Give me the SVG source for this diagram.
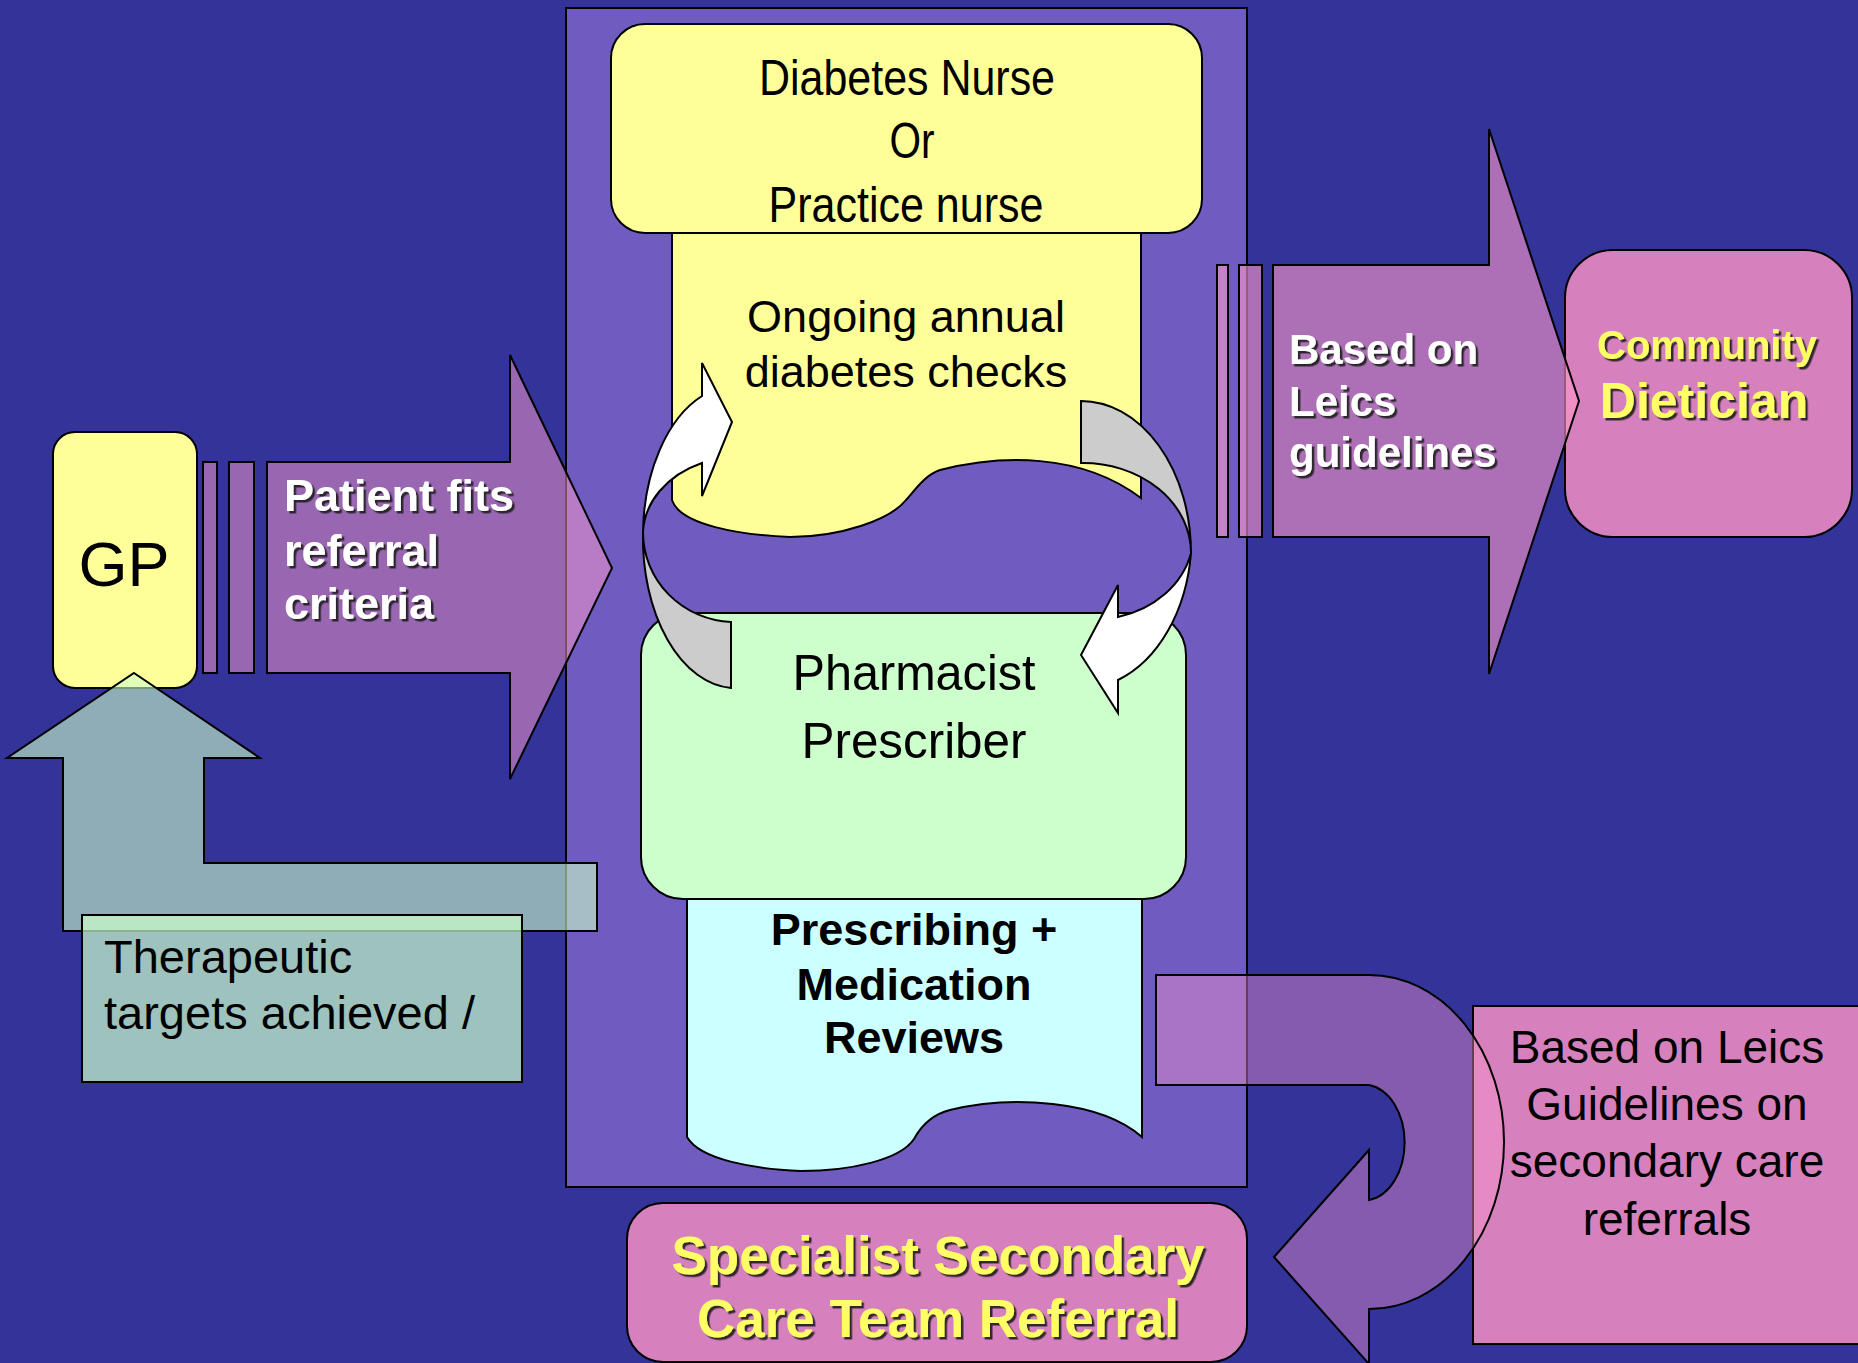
<svg xmlns="http://www.w3.org/2000/svg" width="1858" height="1363" viewBox="0 0 1858 1363">
<defs>
<style>
.ln{stroke:#000;stroke-width:2;stroke-linejoin:miter}
.reg{font-family:"Liberation Sans",Arial,sans-serif;fill:#000}
.nar{font-family:"Liberation Sans Narrow","Liberation Sans",Arial,sans-serif;fill:#000}
.bld{font-family:"Liberation Sans",Arial,sans-serif;font-weight:bold}
.wt{fill:#fff;filter:url(#sh)}
.yt{fill:#ffff66;filter:url(#sh)}
.pinkA{fill:#ff99cc}
.pinkBox{fill:#d681bd}
</style>
<filter id="sh" x="-10%" y="-20%" width="130%" height="150%">
<feDropShadow dx="2.5" dy="2.5" stdDeviation="0.4" flood-color="#1a1a1a" flood-opacity="0.9"/>
</filter>
</defs>
<rect width="1858" height="1363" fill="#333399"/>

<g id="container">
<rect class="ln" x="566" y="8" width="681" height="1179" fill="#705cc0"/>
</g>

<g id="gp">
<rect class="ln" x="53" y="432" width="144" height="256" rx="22" fill="#ffff99"/>
<text class="reg" x="124" y="586" font-size="63" text-anchor="middle">GP</text>
</g>

<g id="annual-checks">
<path class="ln" fill="#ffff99" d="M672,233 H1141 V498 C1080,452 1000,455 940,470 C925,475 915,490 906,500 C890,520 840,537 790,537 C740,535 680,525 672,500 Z"/>
<text class="reg" font-size="45" text-anchor="middle"><tspan x="906" y="332">Ongoing annual</tspan><tspan x="906" y="387">diabetes checks</tspan></text>
</g>

<g id="nurse">
<rect class="ln" x="611" y="24" width="591" height="209" rx="34" fill="#ffff99"/>
<text class="nar" font-size="50" text-anchor="middle"><tspan x="907" y="95" textLength="296" lengthAdjust="spacingAndGlyphs">Diabetes Nurse</tspan><tspan x="912" y="158" textLength="45" lengthAdjust="spacingAndGlyphs">Or</tspan><tspan x="906" y="222" textLength="275" lengthAdjust="spacingAndGlyphs">Practice nurse</tspan></text>
</g>

<g id="reviews">
<path class="ln" fill="#ccffff" d="M687,899 H1142 V1137 C1100,1100 1010,1095 950,1110 C930,1115 920,1128 914,1139 C900,1160 850,1171 801,1171 C755,1169 700,1160 687,1137 Z"/>
<text class="bld" fill="#000" font-size="45" text-anchor="middle"><tspan x="914" y="945">Prescribing +</tspan><tspan x="914" y="1000">Medication</tspan><tspan x="914" y="1053">Reviews</tspan></text>
</g>

<g id="pharmacist">
<rect class="ln" x="641" y="613" width="545" height="286" rx="42" fill="#ccffcc"/>
<text class="nar" font-size="50" text-anchor="middle"><tspan x="914" y="690" textLength="243" lengthAdjust="spacingAndGlyphs">Pharmacist</tspan><tspan x="914" y="758" textLength="225" lengthAdjust="spacingAndGlyphs">Prescriber</tspan></text>
</g>

<g id="dietician">
<rect class="ln pinkBox" x="1565" y="250" width="287" height="287" rx="48"/>
<text class="bld yt" text-anchor="middle"><tspan x="1707" y="359" font-size="40">Community</tspan><tspan x="1704" y="418" font-size="50">Dietician</tspan></text>
</g>

<g id="specialist">
<rect class="ln pinkBox" x="627" y="1203" width="620" height="159" rx="36"/>
<text class="bld yt" font-size="53" text-anchor="middle"><tspan x="938" y="1274">Specialist Secondary</tspan><tspan x="938" y="1337">Care Team Referral</tspan></text>
</g>

<g id="leics-secondary">
<rect class="ln pinkBox" x="1473" y="1006" width="400" height="338"/>
<text class="reg" font-size="46" text-anchor="middle"><tspan x="1667" y="1063">Based on Leics</tspan><tspan x="1667" y="1120">Guidelines on</tspan><tspan x="1667" y="1177">secondary care</tspan><tspan x="1667" y="1235">referrals</tspan></text>
</g>

<g id="connectors">
<g id="arrow-referral">
<rect class="ln pinkA" x="203" y="462" width="14" height="211" fill-opacity="0.5"/>
<rect class="ln pinkA" x="229" y="462" width="25" height="211" fill-opacity="0.5"/>
<path class="ln pinkA" fill-opacity="0.5" d="M267,462 H510 V355 L612,568 L510,779 V673 H267 Z"/>
<text class="bld wt" font-size="45"><tspan x="284" y="511">Patient fits</tspan><tspan x="284" y="566">referral</tspan><tspan x="284" y="619">criteria</tspan></text>
</g>
<g id="arrow-targets">
<path class="ln" fill="#ccffcc" fill-opacity="0.6" d="M134,673 L260,758 L204,758 L204,863 L597,863 L597,931 L63,931 L63,758 L7,758 Z"/>
</g>
<g id="therapeutic-label">
<rect class="ln" x="82" y="915" width="440" height="167" fill="#ccffcc" fill-opacity="0.7"/>
<text class="reg" font-size="47"><tspan x="104" y="973">Therapeutic</tspan><tspan x="104" y="1029">targets achieved /</tspan></text>
</g>
<g id="cycle-left">
<path class="ln" fill="#cccccc" d="M643,533 A93,150 0 0 0 731,688 V622 A92,90 0 0 1 643,533 Z"/>
<path class="ln" fill="#ffffff" d="M702,396 A93,150 0 0 0 643,533 A97,78 0 0 1 702,463 L702,496 L732,422 L702,363 Z"/>
</g>
<g id="cycle-right">
<path class="ln" fill="#cccccc" d="M1081,401 A110,152 0 0 1 1191,553 A108,90 0 0 0 1081,463 Z"/>
<path class="ln" fill="#ffffff" d="M1191,553 A110,152 0 0 1 1118,680 L1118,713 L1081,655 L1118,585 L1118,617 A100,85 0 0 0 1191,553 Z"/>
</g>
<g id="arrow-dietician">
<rect class="ln pinkA" x="1217" y="265" width="11" height="272" fill-opacity="0.6"/>
<rect class="ln pinkA" x="1239" y="265" width="23" height="272" fill-opacity="0.6"/>
<path class="ln pinkA" fill-opacity="0.6" d="M1273,265 H1489 V129 L1579,401 L1489,674 V537 H1273 Z"/>
<text class="bld wt" font-size="42"><tspan x="1289" y="364">Based on</tspan><tspan x="1289" y="416">Leics</tspan><tspan x="1289" y="467">guidelines</tspan></text>
</g>
<g id="arrow-secondary">
<path class="ln pinkA" fill-opacity="0.4" d="M1156,975 H1369 A135,167 0 0 1 1369,1309 V1364 L1274,1257 L1369,1150 V1200 A41,58 0 0 0 1369,1085 H1156 Z"/>
</g>
</g>
</svg>
